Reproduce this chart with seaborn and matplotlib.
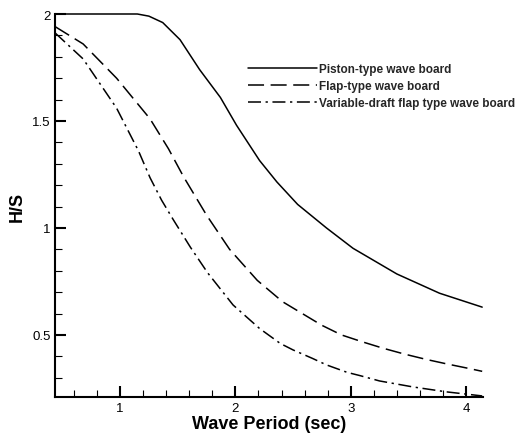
import matplotlib
matplotlib.use("Agg")
import matplotlib.pyplot as plt
import pandas as pd
import seaborn as sns
from matplotlib.ticker import MultipleLocator

# Wave-maker transfer ratio H/S versus wave period for three board types
piston_T = [0.44, 1.15, 1.25, 1.37, 1.52, 1.69, 1.87, 2.01, 2.21, 2.36, 2.54,
            2.79, 3.02, 3.40, 3.77, 4.14]
piston_HS = [2.00, 2.00, 1.99, 1.96, 1.88, 1.74, 1.61, 1.48, 1.315, 1.215, 1.11,
             1.00, 0.905, 0.785, 0.695, 0.63]

flap_T = [0.44, 0.68, 0.97, 1.26, 1.42, 1.55, 1.75, 1.95, 2.19, 2.41, 2.75,
          2.92, 3.10, 3.28, 3.47, 3.66, 3.83, 4.01, 4.14]
flap_HS = [1.94, 1.86, 1.70, 1.51, 1.37, 1.24, 1.06, 0.90, 0.755, 0.655, 0.545,
           0.50, 0.468, 0.438, 0.41, 0.385, 0.365, 0.345, 0.33]

vdraft_T = [0.44, 0.68, 0.97, 1.16, 1.26, 1.36, 1.46, 1.61, 1.76, 1.98, 2.21,
            2.39, 2.50, 2.67, 2.79, 2.97, 3.08, 3.25, 3.54, 3.83, 4.14]
vdraft_HS = [1.91, 1.79, 1.56, 1.36, 1.235, 1.13, 1.04, 0.91, 0.79, 0.64, 0.53,
             0.46, 0.43, 0.39, 0.36, 0.325, 0.31, 0.285, 0.257, 0.234, 0.215]

board_labels = ["Piston-type wave board",
                "Flap-type wave board",
                "Variable-draft flap type wave board"]

x_ticks = [1, 2, 3, 4]
x_tick_labels = ["1", "2", "3", "4"]
y_ticks = [0.5, 1.0, 1.5, 2.0]
y_tick_labels = ["0.5", "1", "1.5", "2"]

df = pd.concat([
    pd.DataFrame({"T": piston_T, "HS": piston_HS, "board": board_labels[0]}),
    pd.DataFrame({"T": flap_T, "HS": flap_HS, "board": board_labels[1]}),
    pd.DataFrame({"T": vdraft_T, "HS": vdraft_HS, "board": board_labels[2]}),
], ignore_index=True)

sns.set_theme(style="ticks")
plt.rcParams["font.family"] = ["Liberation Sans", "DejaVu Sans"]

fig = plt.figure(figsize=(5.19, 4.35), dpi=100)
ax = fig.add_axes([55 / 519, 1 - 398 / 435, 428 / 519, 383 / 435])

sns.lineplot(
    data=df, x="T", y="HS", hue="board", style="board",
    hue_order=board_labels, style_order=board_labels,
    palette=["black"] * 3,
    dashes={board_labels[0]: "",
            board_labels[1]: (10.5, 4.3),
            board_labels[2]: (8.5, 3, 1.5, 3)},
    estimator=None, sort=False, linewidth=1.1, ax=ax,
)
for line in ax.get_lines():
    line.set_clip_on(False)

ax.set_xlim(0.436, 4.147)
ax.set_ylim(0.21, 2.0)
ax.set_xticks(x_ticks, labels=x_tick_labels)
ax.set_yticks(y_ticks, labels=y_tick_labels)
ax.xaxis.set_minor_locator(MultipleLocator(0.2))
ax.yaxis.set_minor_locator(MultipleLocator(0.1))

ax.tick_params(which="both", direction="in", top=False, right=False,
               colors="black", labelsize=9.5)
ax.tick_params(which="major", length=8, width=1.5)
ax.tick_params(which="minor", length=5, width=0.8)
ax.tick_params(axis="x", which="major", pad=3.5)
ax.tick_params(axis="y", which="major", pad=3)

for side in ("top", "right"):
    ax.spines[side].set_visible(False)
for side in ("left", "bottom"):
    ax.spines[side].set_linewidth(1.5)
    ax.spines[side].set_color("black")

ax.set_xlabel("Wave Period (sec)", fontsize=13, fontweight="bold",
              color="black", labelpad=0.5)
ax.set_ylabel("H/S", fontsize=13, fontweight="bold", color="black",
              labelpad=5)

handles, labels = ax.get_legend_handles_labels()
ax.legend(handles, labels, loc="upper left",
          bbox_to_anchor=(248 / 519, 1 - 64 / 435),
          bbox_transform=fig.transFigure, frameon=False,
          borderpad=0, borderaxespad=0, handlelength=5.85,
          handletextpad=0.2, labelspacing=0.43,
          prop={"weight": "bold", "size": 8.5})

fig.savefig("out.png", dpi=100)
